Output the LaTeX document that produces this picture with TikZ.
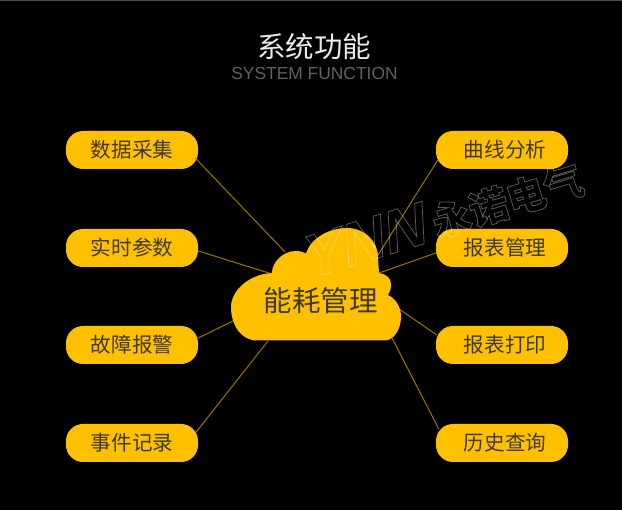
\documentclass[tikz,border=0pt]{standalone}
\usepackage{fontspec}
\setmainfont{Liberation Sans}
\newfontfamily\cjk{Noto Sans CJK SC}
\newfontfamily\wmlat[FakeSlant=0.25]{Liberation Sans}
\usetikzlibrary{calc}
\definecolor{gold}{HTML}{FFC000}
\definecolor{linkgold}{HTML}{9A7400}
\definecolor{labelink}{HTML}{403A26}
\tikzset{
  pill/.style={rectangle,rounded corners=17pt,fill=gold,minimum width=132pt,minimum height=38pt,inner sep=0pt,text=labelink,font=\cjk\fontsize{20.6}{24}\selectfont},
  link/.style={draw=linkgold,line width=1pt}
}
\begin{document}
\begin{tikzpicture}[x=1pt,y=-1pt]
\useasboundingbox (0,0) rectangle (622,510);
\fill[black] (0,0) rectangle (622,510);
\fill[black!70] (0,0) rectangle (622,1.2);
\node[text=white!92!black,font=\cjk\fontsize{28.5}{32}\selectfont,inner sep=0pt] (title) at (314,47) {系统功能};
\node[text=black!62,font=\fontsize{17.4}{20}\selectfont,inner sep=0pt] (subtitle) at (314.5,74) {SYSTEM FUNCTION};
% pills
\node[pill] (pA) at (132,150) {数据采集};
\node[pill] (pB) at (132,248) {实时参数};
\node[pill] (pC) at (132,345) {故障报警};
\node[pill] (pD) at (132,443) {事件记录};
\node[pill] (pE) at (502,150) {\kern6pt 曲线分析};
\node[pill] (pF) at (502,248) {\kern6pt 报表管理};
\node[pill] (pG) at (502,345) {\kern6pt 报表打印};
\node[pill] (pH) at (502,443) {\kern6pt 历史查询};
% cloud attachment points
\coordinate (cA) at (285,252);
\coordinate (cB) at (272,274);
\coordinate (cC) at (233,321);
\coordinate (cD) at (268,341);
\coordinate (cE) at (378,255);
\coordinate (cF) at (379,273);
\coordinate (cG) at (399,309);
\coordinate (cH) at (392,338);
% connectors
\draw[link] ($(pA.east)+(-3,8)$) -- (cA);
\draw[link] ($(pB.east)+(0,3)$) -- (cB);
\draw[link] ($(pC.east)+(0,-7)$) -- (cC);
\draw[link] ($(pD.east)+(-2,-11)$) -- (cD);
\draw[link] ($(pE.west)+(2,10)$) -- (cE);
\draw[link] ($(pF.west)+(0,5)$) -- (cF);
\draw[link] ($(pG.west)+(1,-10)$) -- (cG);
\draw[link] ($(pH.west)+(3,-14)$) -- (cH);
% cloud
\fill[gold] (257,340.5)
  .. controls (241,340.5) and (231,325) .. (231,307)
  .. controls (231,290) and (250,274) .. (272,273)
  .. controls (272,262) and (283,251) .. (296,251)
  .. controls (300,251) and (303,252) .. (306,253.5)
  .. controls (311,238) and (329,228) .. (347,228)
  .. controls (364,228) and (378,241) .. (378,257)
  -- (379,273)
  .. controls (386,274) and (391,278) .. (391,284)
  .. controls (391,289) and (390,292) .. (388,295)
  .. controls (396,299) and (401,307) .. (401,317)
  .. controls (401,330) and (393,340.5) .. (385,340.5)
  -- cycle;
\node[text=labelink,font=\cjk\fontsize{28.5}{32}\selectfont,inner sep=0pt] (cloudlabel) at (320.5,301) {能耗管理};
% watermark
\node[rotate=17,opacity=0.38,text=white,inner sep=0pt,anchor=center] (mark) at (441,218)
  {\special{pdf:code q 1 Tr 0.7 w 1 1 1 RG}{\wmlat\bfseries\fontsize{60}{66}\selectfont YNN}\hspace{10pt}\raisebox{2pt}{\cjk\bfseries\fontsize{39}{44}\selectfont 永诺电气}\special{pdf:code 0 Tr Q}};
\end{tikzpicture}
\end{document}
